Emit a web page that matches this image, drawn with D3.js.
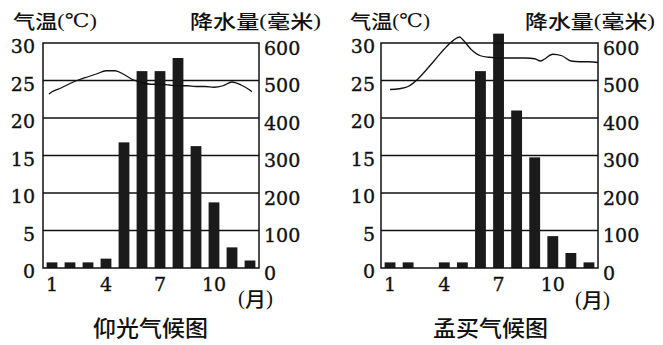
<!DOCTYPE html>
<html>
<head>
<meta charset="utf-8">
<script src="https://cdn.jsdelivr.net/npm/d3@7/dist/d3.min.js"></script>
<style>
  html, body { margin: 0; padding: 0; background: #fff; }
  svg { display: block; }
</style>
</head>
<body>
<svg id="chart" width="663" height="345"></svg>
<script>
// Months and axis ticks
const months = [1, 2, 3, 4, 5, 6, 7, 8, 9, 10, 11, 12];
const monthTicks = [1, 4, 7, 10];
const tempTicks = [0, 5, 10, 15, 20, 25, 30];
const rainTicks = [0, 100, 200, 300, 400, 500, 600];

// Yangon (仰光): monthly precipitation (mm) and temperature curve (°C)
const rainYangon = [15, 15, 15, 25, 335, 525, 525, 560, 325, 175, 55, 20];
const tempPosYangon = [0.83, 1, 1.5, 2, 2.5, 3, 3.5, 4, 4.5, 5, 5.5, 6, 6.5, 7, 7.5, 8, 8.5, 9, 9.5, 10, 10.5, 11, 11.5, 12, 12.1];
const tempYangon    = [23.2, 23.5, 24.0, 24.6, 25.1, 25.5, 25.9, 26.3, 26.3, 25.8, 25.1, 24.7, 24.5, 24.5, 24.4, 24.3, 24.3, 24.2, 24.2, 24.1, 24.3, 24.8, 24.4, 23.7, 23.5];

// Mumbai (孟买): monthly precipitation (mm) and temperature curve (°C)
const rainMumbai = [15, 15, 0, 15, 15, 525, 625, 420, 295, 85, 40, 15];
const tempPosMumbai = [1, 1.5, 2, 2.5, 3, 3.5, 4, 4.5, 4.85, 5, 5.5, 6, 6.5, 7, 8, 8.5, 9, 9.33, 9.5, 10, 10.5, 11, 11.5, 12, 12.5];
const tempMumbai    = [23.8, 23.9, 24.2, 25.1, 26.4, 27.8, 29.2, 30.35, 30.8, 30.5, 29.1, 28.3, 28.1, 28.0, 28.0, 28.0, 27.9, 27.6, 27.8, 28.5, 28.3, 27.6, 27.5, 27.5, 27.4];

const svg = d3.select("#chart");
const INK = "#111";
const NUM_FONT = "'DejaVu Serif', 'Liberation Serif', serif";
const CJK_FONT = "'Noto Sans CJK SC', 'Noto Sans CJK JP', sans-serif";
const PAREN_FONT = "'Liberation Serif', 'DejaVu Serif', serif";

const plotTop = 43, plotBottom = 268;

const panels = [
  { left: 43,  right: 259, rain: rainYangon, tPos: tempPosYangon, temp: tempYangon,
    title: "仰光气候图", titleX: 150.5,
    yLabelEnd: 35, rLabelStart: 264,
    tempHead: { x: 13, w: 84 }, rainHead: { x: 190, w: 131 },
    monthUnit: { x: 255.5, y: 297.5 } },
  { left: 381, right: 598, rain: rainMumbai, tPos: tempPosMumbai, temp: tempMumbai,
    title: "孟买气候图", titleX: 490.5,
    yLabelEnd: 375, rLabelStart: 603,
    tempHead: { x: 350, w: 80 }, rainHead: { x: 525, w: 130 },
    monthUnit: { x: 592.5, y: 299 } }
];

function headText(g, x, y, w, parts) {
  const t = g.append("text")
    .attr("x", x).attr("y", y)
    .attr("dominant-baseline", "central")
    .attr("font-size", 19)
    .attr("fill", INK)
    .attr("textLength", w)
    .attr("lengthAdjust", "spacingAndGlyphs");
  parts.forEach(([s, fam, weight]) => {
    t.append("tspan").attr("font-family", fam).attr("font-weight", weight).text(s);
  });
}

function numLabels(g, data, xf, yf, anchor) {
  g.append("g").selectAll("text").data(data).join("text")
    .attr("x", xf).attr("y", yf)
    .attr("text-anchor", anchor).attr("dominant-baseline", "central")
    .attr("font-family", NUM_FONT).attr("font-size", 19)
    .attr("fill", INK).attr("stroke", INK).attr("stroke-width", 0.35)
    .text(d => d);
}

panels.forEach(p => {
  const g = svg.append("g");

  const xBand = d3.scaleBand().domain(months).range([p.left, p.right])
    .paddingInner(0.4).paddingOuter(0.2);
  const xLin = d3.scaleLinear().domain([0.5, 12.5]).range([p.left, p.right]);
  const yTemp = d3.scaleLinear().domain([0, 30]).range([plotBottom, plotTop]);
  const yRain = d3.scaleLinear().domain([0, 600]).range([plotBottom, plotTop]);

  // horizontal grid lines
  g.append("g").selectAll("line").data(tempTicks.slice(1, -1)).join("line")
    .attr("x1", p.left).attr("x2", p.right)
    .attr("y1", d => yTemp(d)).attr("y2", d => yTemp(d))
    .attr("stroke", INK).attr("stroke-width", 1.3);

  // precipitation bars
  g.append("g").selectAll("rect").data(months.map((m, i) => ({ m, v: p.rain[i] }))).join("rect")
    .attr("x", d => xBand(d.m))
    .attr("width", xBand.bandwidth())
    .attr("y", d => yRain(d.v))
    .attr("height", d => yRain(0) - yRain(d.v))
    .attr("fill", "#1a1a1a");

  // temperature curve
  const line = d3.line().x(d => xLin(d[0])).y(d => yTemp(d[1])).curve(d3.curveMonotoneX);
  g.append("path")
    .datum(p.tPos.map((m, i) => [m, p.temp[i]]))
    .attr("d", line)
    .attr("fill", "none").attr("stroke", INK).attr("stroke-width", 1.3);

  // frame
  g.append("rect")
    .attr("x", p.left).attr("y", plotTop)
    .attr("width", p.right - p.left).attr("height", plotBottom - plotTop)
    .attr("fill", "none").attr("stroke", INK).attr("stroke-width", 1.5);

  // axis labels: temperature (left), precipitation (right), months (bottom)
  numLabels(g, tempTicks, p.yLabelEnd, d => yTemp(d) + 3, "end");
  numLabels(g, rainTicks, p.rLabelStart, d => yRain(d) + 4.5, "start");
  numLabels(g, monthTicks, d => xLin(d), 284, "middle");

  // month unit
  const mu = g.append("text")
    .attr("x", p.monthUnit.x).attr("y", p.monthUnit.y)
    .attr("text-anchor", "middle").attr("dominant-baseline", "central")
    .attr("font-size", 20).attr("fill", INK)
    .attr("textLength", 35).attr("lengthAdjust", "spacingAndGlyphs");
  mu.append("tspan").attr("font-family", PAREN_FONT).text("(");
  mu.append("tspan").attr("font-family", CJK_FONT).attr("font-weight", 500).text("月");
  mu.append("tspan").attr("font-family", PAREN_FONT).text(")");

  // axis headings
  headText(g, p.tempHead.x, 20, p.tempHead.w,
    [["气温", CJK_FONT, 500], ["(℃)", PAREN_FONT, 400]]);
  headText(g, p.rainHead.x, 20, p.rainHead.w,
    [["降水量", CJK_FONT, 500], ["(", PAREN_FONT, 400], ["毫米", CJK_FONT, 500], [")", PAREN_FONT, 400]]);

  // panel title
  g.append("text")
    .attr("x", p.titleX).attr("y", 326)
    .attr("text-anchor", "middle").attr("dominant-baseline", "central")
    .attr("font-family", CJK_FONT).attr("font-weight", 500)
    .attr("font-size", 22).attr("fill", INK)
    .attr("textLength", 115).attr("lengthAdjust", "spacingAndGlyphs")
    .text(p.title);
});
</script>
</body>
</html>
